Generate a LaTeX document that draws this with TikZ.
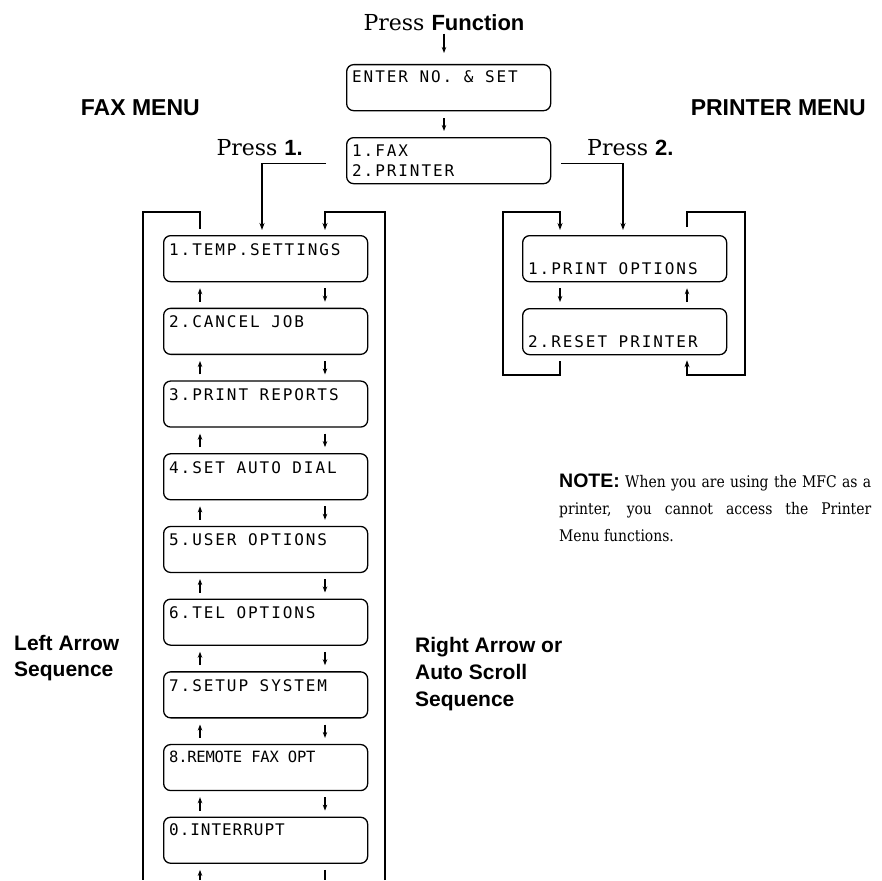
\documentclass[tikz,border=0pt]{standalone}
\usepackage{fontspec}
\setmainfont{DejaVu Serif}
\newfontfamily\hv{Liberation Sans}
\newfontfamily\notef[FakeStretch=0.87]{DejaVu Serif}
\newfontfamily\lcdf[LetterSpace=12]{DejaVu Sans Mono}
\newfontfamily\lcdn[LetterSpace=-1.5]{DejaVu Sans Mono}
\newfontfamily\lcdm[LetterSpace=6]{DejaVu Sans Mono}
\usetikzlibrary{arrows.meta}
\begin{document}
\begin{tikzpicture}[x=1pt,y=-1pt,
  lcd/.style={draw,line width=1.3pt,rounded corners=7pt,minimum width=204pt,minimum height=46pt,anchor=north west,inner sep=0pt},
  lcdtxt/.style={font=\lcdf\fontsize{16}{16}\selectfont,anchor=base west,inner sep=0pt},
  bline/.style={line width=1.6pt},
  barrow/.style={line width=1.6pt,-{Stealth[length=7pt,width=5pt]},shorten >=5pt},
  sarr/.style={line width=1.2pt,-{Stealth[length=6pt,width=4.5pt]}},
  hd/.style={font=\hv\bfseries\fontsize{23}{23}\selectfont,inner sep=0pt},
  lbl/.style={font=\hv\bfseries\fontsize{21}{26}\selectfont,align=left,inner sep=0pt},
  prs/.style={font=\fontsize{22}{22}\selectfont,inner sep=0pt},
]
\useasboundingbox (0,0) rectangle (882,880);

% headings
\node[hd,anchor=base east] (faxmenu) at (200,115) {FAX MENU};
\node[hd,anchor=base east] (prtmenu) at (866,115) {PRINTER MENU};

% top
\node[prs,anchor=base] (pf) at (444,31) {Press {\hv\bfseries Function}};
\node[lcd] (enter) at (346,64) {};
\node[lcdtxt] (entertxt) at ([xshift=6pt,yshift=-19pt]enter.north west) {ENTER NO. \& SET};
\draw[sarr,shorten <=2pt,shorten >=11pt] (pf.south) -- (pf.south |- enter.north);
\node[lcd] (fax) at (346,137) {};
\node[lcdtxt] (fax1) at ([xshift=6pt,yshift=-19pt]fax.north west) {1.FAX};
\node[lcdtxt] (fax2) at ([xshift=6pt,yshift=-39pt]fax.north west) {2.PRINTER};
\draw[sarr,shorten <=7pt,shorten >=6pt] (enter.south -| pf.south) -- (fax.north -| pf.south);

\node[prs,anchor=base east] (press1) at (303,155) {Press {\hv\bfseries 1.}};
\node[prs,anchor=base west] (press2) at (587,155) {Press {\hv\bfseries 2.}};

% left column boxes
\foreach \txt [count=\i from 0] in {1.TEMP.SETTINGS,2.CANCEL JOB,3.PRINT REPORTS,4.SET AUTO DIAL,5.USER OPTIONS,6.TEL OPTIONS,7.SETUP SYSTEM}{
  \pgfmathsetmacro\yy{235+72.7*\i}
  \node[lcd] (b\i) at (163,\yy) {};
  \node[lcdtxt] (t\i) at ([xshift=6pt,yshift=-20pt]b\i.north west) {\txt};
}
\node[lcd] (b7) at (163,{235+72.7*7}) {};
\node[lcdtxt,font=\lcdn\fontsize{15.5}{15.5}\selectfont] (t7) at ([xshift=6pt,yshift=-19pt]b7.north west) {8.REMOTE FAX OPT};
\node[lcd] (b8) at (163,{235+72.7*8}) {};
\node[lcdtxt,font=\lcdm\fontsize{16}{16}\selectfont] (t8) at ([xshift=6pt,yshift=-19pt]b8.north west) {0.INTERRUPT};

\foreach \i [evaluate=\i as \j using int(\i+1)] in {0,...,7}{
  \draw[sarr,shorten <=6pt,shorten >=6pt] ([xshift=37pt]b\j.north west) -- ([xshift=37pt]b\i.south west);
  \draw[sarr,shorten <=6pt,shorten >=6pt] ([xshift=162pt]b\i.south west) -- ([xshift=162pt]b\j.north west);
}

% left column brackets
\coordinate (llt) at (143,212);
\coordinate (llb) at (143,880);
\coordinate (rrt) at (385,212);
\coordinate (rrb) at (385,880);
\coordinate (lb) at (200,880);
\coordinate (rb) at (325,880);
\draw[bline,shorten <=6pt] ([xshift=37pt]b0.north west) |- (llt) -- (llb);
\draw[barrow] (rrb) -- (rrt) -| ([xshift=162pt]b0.north west);
\draw[sarr,shorten >=6pt] (lb) -- ([xshift=37pt]b8.south west);
\draw[line width=1.2pt,shorten <=6pt] ([xshift=162pt]b8.south west) -- (rb);

% printer menu
\node[lcd] (p1) at (522,235) {};
\node[lcdtxt] (pt1) at ([xshift=6pt,yshift=-39pt]p1.north west) {1.PRINT OPTIONS};
\node[lcd] (p2) at (522,308) {};
\node[lcdtxt] (pt2) at ([xshift=6pt,yshift=-39pt]p2.north west) {2.RESET PRINTER};
\draw[sarr,shorten <=6pt,shorten >=6pt] ([xshift=38pt]p1.south west) -- ([xshift=38pt]p2.north west);
\draw[sarr,shorten <=6pt,shorten >=6pt] ([xshift=165pt]p2.north west) -- ([xshift=165pt]p1.south west);
\coordinate (plt) at (503,212);
\coordinate (plb) at (503,375);
\coordinate (prt) at (745,212);
\coordinate (prb) at (745,375);
\draw[barrow,shorten <=6pt] ([xshift=38pt]p2.south west) |- (plb) -- (plt) -| ([xshift=38pt]p1.north west);
\draw[barrow,shorten <=8pt] ([xshift=165pt]p1.north west) |- (prt) -- (prb) -| ([xshift=165pt]p2.south west);

% menu selection lines
\draw[barrow] ([xshift=-20pt,yshift=-3pt]fax.west) -| ([xshift=99pt]b0.north west);
\draw[barrow] ([xshift=10pt,yshift=-3pt]fax.east) -| ([xshift=101pt]p1.north west);

% labels
\node[lbl,anchor=north west] (leftlbl) at (14,635) {Left Arrow\\Sequence};
\node[lbl,anchor=north west,font=\hv\bfseries\fontsize{21}{27}\selectfont] (rightlbl) at (415,637) {Right Arrow or\\Auto Scroll\\Sequence};

\node[anchor=north west,text width=312pt,align=justify,inner sep=0pt,font=\notef\fontsize{16}{27}\selectfont] (note) at (559,474)
 {{\hv\bfseries\fontsize{19.5}{27}\selectfont NOTE:} When you are using the MFC as a\linebreak printer, you cannot access the Printer\linebreak Menu functions.};
\end{tikzpicture}
\end{document}
